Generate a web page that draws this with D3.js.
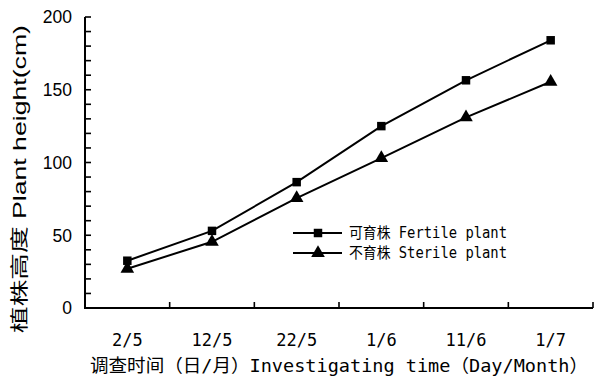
<!DOCTYPE html>
<html><head><meta charset="utf-8">
<script src="https://cdn.jsdelivr.net/npm/d3@7"></script>
<style>body{margin:0;background:#fff}svg{display:block}</style>
</head><body>
<svg id="c" width="596" height="383"></svg>
<script>
const categories = ["2/5","12/5","22/5","1/6","11/6","1/7"];
const fertile = [32.5, 53, 86.5, 125, 156.5, 184];
const sterile = [27, 45.5, 75.5, 103, 131, 155.5];
const yTicks = [0,50,100,150,200];
const seriesNames = ["可育株 Fertile plant","不育株 Sterile plant"];

const svg = d3.select("#c");
const L=85, R=593, T=17, B=308;
const x = d3.scaleBand().domain(categories).range([L,R]);
const y = d3.scaleLinear().domain([0,200]).range([B,T]);

// minor/major y ticks (inside)
const yAll = d3.range(0,201,10);
svg.append("g").selectAll("line").data(yAll).join("line")
  .attr("x1",L).attr("x2",L+6).attr("y1",d=>y(d)).attr("y2",d=>y(d))
  .attr("stroke","#000").attr("stroke-width",1.6);
// x ticks at band boundaries (inside)
const bounds = categories.map(c=>x(c)+x.bandwidth()).concat([]);
svg.append("g").selectAll("line").data(bounds).join("line")
  .attr("x1",d=>d).attr("x2",d=>d).attr("y1",B).attr("y2",B-6)
  .attr("stroke","#000").attr("stroke-width",1.6);
// axes lines
svg.append("path").attr("d",`M${L},${T}V${B}H${R}`).attr("fill","none")
  .attr("stroke","#000").attr("stroke-width",2);

// y tick labels
svg.append("g").selectAll("text").data(yTicks).join("text")
  .attr("x",72).attr("y",d=>y(d)).attr("dy","0.36em").attr("text-anchor","end")
  .attr("font-family","Liberation Sans, Arial, sans-serif").attr("font-size",17.5)
  .text(d=>d);
// x tick labels
svg.append("g").selectAll("text").data(categories).join("text")
  .attr("x",d=>x(d)+x.bandwidth()/2).attr("y",340).attr("dy","0.36em").attr("text-anchor","middle")
  .attr("font-family","DejaVu Sans Mono, monospace").attr("font-size",17)
  .text(d=>d);

// x title
svg.append("text").attr("x",90).attr("y",366).attr("dy","0.36em")
  .attr("font-family","DejaVu Sans Mono, Noto Sans CJK SC").attr("font-size",18)
  .attr("textLength",498).attr("lengthAdjust","spacingAndGlyphs")
  .text("调查时间（日/月）Investigating time（Day/Month）");
// y title
svg.append("text").attr("transform","translate(20,179) rotate(-90)")
  .attr("text-anchor","middle").attr("dy","0.36em")
  .attr("font-family","Liberation Sans, Noto Sans CJK SC").attr("font-size",18)
  .attr("textLength",308).attr("lengthAdjust","spacingAndGlyphs")
  .text("植株高度 Plant height(cm)");

const line = d3.line().x((d,i)=>x(categories[i])+x.bandwidth()/2).y(d=>y(d));
const sq = d3.symbol().type(d3.symbolSquare).size(72);
const tri = d3.symbol().type(d3.symbolTriangle).size(80);
[[fertile,sq],[sterile,tri]].forEach(([data,sym])=>{
  svg.append("path").attr("d",line(data)).attr("fill","none").attr("stroke","#000").attr("stroke-width",2);
  svg.append("g").selectAll("path").data(data).join("path")
    .attr("transform",(d,i)=>`translate(${x(categories[i])+x.bandwidth()/2},${y(d)})`)
    .attr("d",sym()).attr("fill","#000");
});

// legend
const lg = svg.append("g");
[[sq,233],[tri,253]].forEach(([sym,ly],i)=>{
  lg.append("line").attr("x1",293).attr("x2",342).attr("y1",ly).attr("y2",ly).attr("stroke","#000").attr("stroke-width",2);
  lg.append("path").attr("transform",`translate(318,${ly})`).attr("d",sym()).attr("fill","#000");
  lg.append("text").attr("x",349).attr("y",ly).attr("dy","0.36em")
    .attr("font-family","DejaVu Sans Mono, Noto Sans CJK SC").attr("font-size",15)
    .attr("textLength",158).attr("lengthAdjust","spacingAndGlyphs")
    .text(seriesNames[i]);
});
</script>
</body></html>
